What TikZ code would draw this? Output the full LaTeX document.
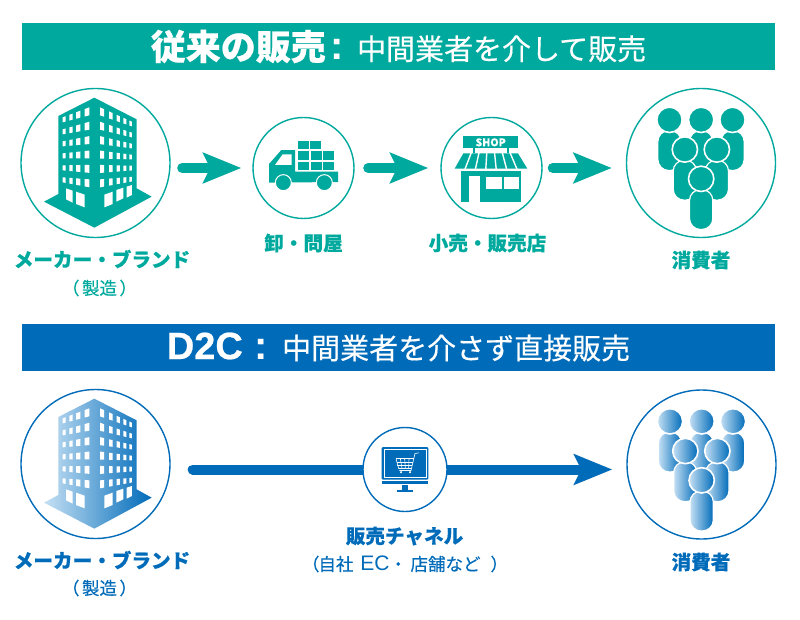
\documentclass[tikz,border=0pt]{standalone}
\usepackage{fontspec}
\setmainfont{Noto Sans CJK JP}[BoldFeatures={FakeBold=0.3}]
\newfontfamily\latinfont{Liberation Sans}
\newfontfamily\heavylatin{Liberation Sans}[BoldFeatures={FakeBold=0.6}]
\newfontfamily\heavyfont{Noto Sans CJK JP}[BoldFeatures={FakeBold=0.5}]
\newfontfamily\medfont{Noto Sans CJK JP}[FakeBold=0.35]
\usetikzlibrary{arrows.meta,backgrounds}
\definecolor{tealc}{HTML}{00A99D}
\definecolor{bluec}{HTML}{006BB9}
\definecolor{paleb}{HTML}{C5E0F4}
\definecolor{midb}{HTML}{2F95D8}
\tikzset{
	tealfill/.style={fill=tealc},
	bluefill/.style={left color=paleb, middle color=midb, right color=bluec},
	banner/.style={rectangle, text=white, minimum width=753pt, minimum height=47pt, inner sep=0pt},
	ring/.style={circle, draw=#1, fill=white, line width=1.4pt, inner sep=0pt},
	label/.style={text=#1, font=\fontsize{19.6}{21}\selectfont\bfseries, inner sep=0pt},
	sublabel/.style={text=#1, font=\fontsize{17.5}{20}\selectfont\medfont, inner sep=0pt},
	flow/.style={draw=#1, line width=10pt, line cap=round, -{Stealth[length=38pt, width=30pt, inset=7pt, fill=#1]}},
}
\def\person(#1,#2)[#3]{
	\path[#3, draw=white, line width=1.2pt, rounded corners=11pt] (#1-35,#2+32) -- (#1-35,#2+152) -- (#1+35,#2+152) -- (#1+35,#2+32) -- cycle;
	\path[#3, draw=white, line width=1.6pt] (#1,#2) circle (38);
}
\def\building(#1)[#2]{
	\begin{scope}[shift={(#1)}, x=0.3333pt, y=-0.3333pt, shift={(-286.5,-249)}]
		\path[#2] (175,108) -- (283,53) -- (410,118) -- (410,325) -- (455,350) -- (283,443) -- (132,365) -- (175,342) -- cycle;
		\foreach \r in {0,...,5}
			\foreach \xa/\xb in {188/197,208/218,228/241,254/268} {
				\fill[white] (\xa,{112+36*\r+(\xa-188)*(-.375+.09*\r)}) -- (\xb,{112+36*\r+(\xb-188)*(-.375+.09*\r)}) -- (\xb,{112+36*\r+(\xb-188)*(-.375+.09*\r)+15+(\xb-188)*.11}) -- (\xa,{112+36*\r+(\xa-188)*(-.375+.09*\r)+15+(\xa-188)*.11}) -- cycle;
			}
		\foreach \r in {0,...,5}
			\foreach \xa/\xb in {300/312,327/338,350/360,370/379,388/396} {
				\fill[white] (\xa,{82+43.2*\r+(\xa-300)*(.45-.106*\r)}) -- (\xb,{82+43.2*\r+(\xb-300)*(.45-.106*\r)}) -- (\xb,{82+43.2*\r+(\xb-300)*(.45-.106*\r)+24-(\xb-300)*.104}) -- (\xa,{82+43.2*\r+(\xa-300)*(.45-.106*\r)+24-(\xa-300)*.104}) -- cycle;
			}
		\fill[white] (198,325) -- (218,332) -- (218,368) -- (198,358) -- cycle;
		\fill[white] (228,335) -- (254,344) -- (254,382) -- (228,372) -- cycle;
		\fill[white] (313,344) -- (338,335) -- (338,372) -- (313,382) -- cycle;
		\fill[white] (349,330) -- (370,323) -- (370,355) -- (349,365) -- cycle;
		\fill[white] (380,320) -- (396,315) -- (396,345) -- (380,353) -- cycle;
	\end{scope}
}
\def\crowd(#1)[#2]{
	\begin{scope}[shift={(#1)}, x=0.3333pt, y=-0.3333pt, shift={(-482.5,-217.5)}]
		\person(483,88)[#2]
		\person(388,88)[#2]
		\person(577,88)[#2]
		\person(434,177)[#2]
		\person(530,177)[#2]
		\person(483,265)[#2]
	\end{scope}
}

\begin{document}
\begin{tikzpicture}[x=1pt, y=-1pt]
	%%%%% START %%%%%
	\useasboundingbox (0,0) rectangle (800,620);
	
	\node[banner, fill=tealc] (oldtitle) at (398.5,46.5) {\fontsize{35}{36}\selectfont\heavyfont\bfseries 従来の販売\hspace{5pt}{\fontsize{40}{40}\selectfont\latinfont\bfseries :}\hspace{13pt}\fontsize{29}{36}\selectfont\medfont\mdseries 中間業者を介して販売};
	
	\node[ring=tealc, minimum size=149pt] (maker) at (95.5,163) {};
	\node[ring=tealc, minimum size=101pt] (truck) at (303.5,168) {};
	\node[ring=tealc, minimum size=101pt] (shop) at (491.5,168) {};
	\node[ring=tealc, minimum size=149pt] (crowd) at (701,163) {};
	
	\draw[flow=tealc, shorten <=11.5pt, shorten >=11pt] (maker.east |- truck.west) -- (truck.west);
	\draw[flow=tealc, shorten <=13.5pt, shorten >=12pt] (truck.east) -- (shop.west);
	\draw[flow=tealc, shorten <=10pt, shorten >=14pt] (shop.east) -- (shop.east -| crowd.west);
	
	\building(maker.center)[tealfill]
	
	\begin{scope}[shift={(truck.center)}, x=0.3333pt, y=-0.3333pt, shift={(-190.5,-204)}]
		\foreach \xa/\ya in {174/122,210/122,174/153,212/153,250/153,174/185,212/185,250/185}
			\fill[tealc] (\xa,\ya) rectangle (\xa+33,\ya+26);
		\fill[tealc] (87,192) -- (124,150) -- (165,150) -- (165,215) -- (294,215) -- (294,246) -- (87,248) -- cycle;
		\fill[white] (105,195) -- (128,163) -- (155,163) -- (155,195) -- cycle;
		\filldraw[fill=tealc, draw=white, line width=1pt] (130,248) circle (24);
		\filldraw[fill=tealc, draw=white, line width=1pt] (253,248) circle (24);
	\end{scope}
	
	\begin{scope}[shift={(shop.center)}, x=0.3333pt, y=-0.3333pt, shift={(-752.5,-204)}]
		\fill[tealc] (667,108) rectangle (832,145);
		\node[text=white, font=\fontsize{10.5}{11}\selectfont\bfseries, inner sep=0pt] (shopsign) at (750,127) {SHOP};
		\fill[tealc] (698,145) rectangle (703,160);
		\fill[tealc] (800,145) rectangle (805,160);
		\fill[tealc] (668,160) -- (832,160) -- (860,206) -- (642,206) -- cycle;
		\foreach \i in {1,...,6}
			\draw[white, line width=1.4pt] ({668+\i*164/7},159) -- ({642+\i*218/7},207);
		\fill[tealc] (662,212) rectangle (840,228);
		\fill[tealc] (662,228) rectangle (684,305);
		\fill[tealc] (718,228) rectangle (840,305);
		\fill[white] (736,230) rectangle (783,267);
		\fill[white] (790,230) rectangle (835,267);
	\end{scope}
	
	\crowd(crowd.center)[tealfill]
	
	\node[label=tealc] (makerlabel) at (102,259) {メーカー・ブランド};
	\node[sublabel=tealc] (makersub) at (99.5,288) {（\hspace{2.5pt}製造\hspace{2.5pt}）};
	\node[label=tealc] (trucklabel) at (303.5,243) {卸・問屋};
	\node[label=tealc] (shoplabel) at (487.5,243) {小売・販売店};
	\node[label=tealc] (crowdlabel) at (701,260) {消費者};
	
	\node[banner, fill=bluec] (newtitle) at (398.5,347) {\fontsize{38}{40}\selectfont\heavylatin\bfseries D2C\hspace{12pt}{\fontsize{40}{40}\selectfont\latinfont :}\hspace{14pt}\fontsize{29}{36}\selectfont\medfont\mdseries 中間業者を介さず直接販売};
	
	\node[ring=bluec, minimum size=149pt] (maker2) at (95.5,464) {};
	\node[ring=bluec, minimum size=84pt] (net) at (405,469.5) {};
	\node[ring=bluec, minimum size=149pt] (crowd2) at (701.5,464.5) {};
	
	\begin{pgfonlayer}{background}
		\draw[flow=bluec, shorten <=22pt, shorten >=14pt] (maker2.east |- net.west) -- (net.center -| crowd2.west);
	\end{pgfonlayer}
	
	\building(maker2.center)[bluefill]
	
	\begin{scope}[shift={(net.center)}, x=0.3333pt, y=-0.3333pt, shift={(-315,-145)}]
		\fill[bluec, rounded corners=1pt] (245,78) rectangle (385,175);
		\draw[white, line width=0.7pt] (252,86) rectangle (378,168);
		\fill[bluec] (245,178) rectangle (385,188);
		\fill[bluec] (305,190) rectangle (325,205);
		\fill[bluec] (292,207) rectangle (340,213);
		\draw[white, line width=0.6pt] (357,95) -- (345,97) -- (333,148) -- (298,148);
		\draw[white, line width=0.6pt] (288,112) -- (341,112);
		\draw[white, line width=0.6pt] (290,122) -- (338,122);
		\draw[white, line width=0.6pt] (292,132) -- (336,132);
		\draw[white, line width=0.6pt] (288,112) -- (296,142) -- (334,142);
		\foreach \i in {1,2,3}
			\draw[white, line width=0.6pt] ({288+\i*13},112) -- ({296+\i*10},142);
		\fill[white] (303,153) circle (3.5);
		\fill[white] (330,153) circle (3.5);
	\end{scope}
	
	\crowd(crowd2.center)[bluefill]
	
	\node[label=bluec] (maker2label) at (102,560) {メーカー・ブランド};
	\node[sublabel=bluec] (maker2sub) at (99.5,588) {（\hspace{2.5pt}製造\hspace{2.5pt}）};
	\node[label=bluec] (netlabel) at (404.5,536) {販売チャネル};
	\node[sublabel=bluec] (netsub) at (405,564) {（\hspace{-1pt}自社\hspace{3pt} {\fontsize{21}{20}\selectfont\latinfont EC}・\hspace{3.5pt}店舗など\hspace{10pt}）};
	\node[label=bluec] (crowd2label) at (701,562) {消費者};
	
	%%%%% END %%%%%
\end{tikzpicture}
\end{document}
